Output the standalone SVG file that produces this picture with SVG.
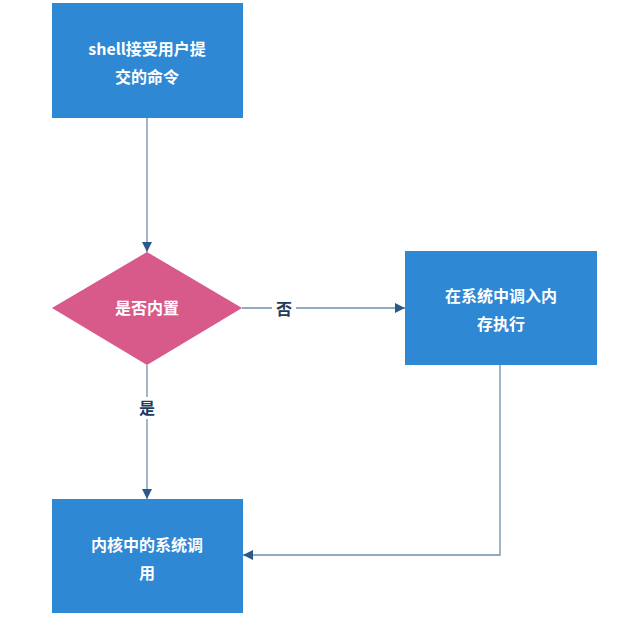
<svg xmlns="http://www.w3.org/2000/svg" width="627" height="629" viewBox="0 0 627 629">
<style>
.box{fill:#2E88D4}
.dia{fill:#D75A8A}
.t{font-family:"Noto Sans CJK SC","Noto Sans",sans-serif;font-size:16px;font-weight:bold;fill:#fff;text-anchor:middle}
.l{font-family:"Noto Sans CJK SC",sans-serif;font-size:16px;font-weight:bold;fill:#213B5C;text-anchor:middle}
.c{stroke:#6F8FAE;stroke-width:1.3;fill:none}
</style>
<defs><marker id="a" viewBox="0 0 10 10" refX="10" refY="5" markerWidth="10" markerHeight="10" markerUnits="userSpaceOnUse" orient="auto"><path d="M0,0L10,5L0,10z" fill="#2B5A8A"/></marker></defs>
<rect width="627" height="629" fill="#fff"/>
<g id="connectors">
<path class="c" d="M147,118V252" marker-end="url(#a)"/>
<path class="c" d="M242,308H405" marker-end="url(#a)"/>
<path class="c" d="M147,365V499" marker-end="url(#a)"/>
<path class="c" d="M500,365V555H243" marker-end="url(#a)"/>
<rect x="272" y="297" width="24" height="22" fill="#fff"/>
<text class="l" x="284" y="315">否</text>
<rect x="136" y="397" width="22" height="22" fill="#fff"/>
<text class="l" x="147" y="414">是</text>
</g>
<g id="n1"><rect class="box" x="52" y="3" width="191" height="115"/>
<text class="t" x="147" y="55">shell接受用户提</text><text class="t" x="147" y="83">交的命令</text></g>
<g id="n2"><path class="dia" d="M147,252L242,308L147,365L52,308z"/>
<text class="t" x="147" y="314">是否内置</text></g>
<g id="n3"><rect class="box" x="405" y="251" width="192" height="114"/>
<text class="t" x="501" y="302">在系统中调入内</text><text class="t" x="501" y="330">存执行</text></g>
<g id="n4"><rect class="box" x="52" y="499" width="191" height="114"/>
<text class="t" x="147" y="551">内核中的系统调</text><text class="t" x="147" y="579">用</text></g>
</svg>
